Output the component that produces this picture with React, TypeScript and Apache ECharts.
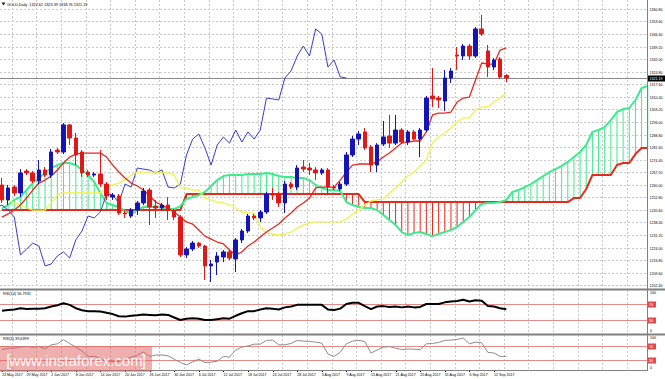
import React, { useEffect, useRef } from "react";
import * as echarts from "echarts";

// ---------- data ----------
const dates = [
  "23 May 2017","24 May 2017","25 May 2017","26 May 2017","29 May 2017","30 May 2017","31 May 2017",
  "1 Jun 2017","2 Jun 2017","5 Jun 2017","6 Jun 2017","7 Jun 2017","8 Jun 2017","9 Jun 2017",
  "12 Jun 2017","13 Jun 2017","14 Jun 2017","15 Jun 2017","16 Jun 2017","19 Jun 2017","20 Jun 2017",
  "21 Jun 2017","22 Jun 2017","23 Jun 2017","26 Jun 2017","27 Jun 2017","28 Jun 2017","29 Jun 2017",
  "30 Jun 2017","3 Jul 2017","4 Jul 2017","5 Jul 2017","6 Jul 2017","7 Jul 2017","10 Jul 2017",
  "11 Jul 2017","12 Jul 2017","13 Jul 2017","14 Jul 2017","17 Jul 2017","18 Jul 2017","19 Jul 2017",
  "20 Jul 2017","21 Jul 2017","24 Jul 2017","25 Jul 2017","26 Jul 2017","27 Jul 2017","28 Jul 2017",
  "31 Jul 2017","1 Aug 2017","2 Aug 2017","3 Aug 2017","4 Aug 2017","7 Aug 2017","8 Aug 2017",
  "9 Aug 2017","10 Aug 2017","11 Aug 2017","14 Aug 2017","15 Aug 2017","16 Aug 2017","17 Aug 2017",
  "18 Aug 2017","21 Aug 2017","22 Aug 2017","23 Aug 2017","24 Aug 2017","25 Aug 2017","28 Aug 2017",
  "29 Aug 2017","30 Aug 2017","31 Aug 2017","1 Sep 2017","4 Sep 2017","5 Sep 2017","6 Sep 2017",
  "7 Sep 2017","8 Sep 2017","11 Sep 2017","12 Sep 2017","13 Sep 2017","14 Sep 2017"
];

const opens = [1259.9,1251.3,1258.7,1255.3,1267.9,1266.8,1262.2,1268.5,1265.6,1279.9,1278.8,1294.3,1286.8,1278.8,1267.3,1265.6,1266.2,1260.4,1253.0,1253.6,1243.8,1242.1,1245.5,1249.6,1257.0,1247.8,1246.7,1248.4,1245.0,1241.5,1219.8,1223.2,1226.6,1224.9,1213.5,1215.7,1218.6,1221.5,1217.5,1228.4,1233.5,1242.1,1241.0,1244.4,1254.7,1254.7,1249.6,1260.4,1258.7,1270.2,1269.6,1268.5,1266.8,1268.5,1258.7,1257.6,1260.4,1277.1,1286.2,1290.3,1281.7,1271.3,1283.4,1288.0,1283.9,1291.4,1284.5,1290.3,1286.2,1291.4,1310.9,1309.7,1308.0,1321.2,1334.4,1333.8,1339.5,1333.8,1349.3,1336.7,1327.5,1332.1,1322.62];
const closes = [1251.3,1258.2,1255.3,1266.8,1266.8,1262.2,1268.5,1265.6,1278.8,1278.8,1294.3,1286.8,1277.1,1266.8,1265.6,1266.2,1260.4,1253.6,1254.1,1243.8,1243.3,1245.5,1249.6,1256.4,1247.3,1246.7,1248.4,1245.5,1241.5,1219.8,1223.2,1226.6,1224.9,1213.5,1214.6,1219.2,1221.5,1218.0,1228.4,1233.5,1242.1,1241.0,1244.4,1254.7,1254.1,1249.6,1260.4,1258.7,1269.6,1269.0,1268.5,1266.8,1268.5,1258.7,1258.2,1260.4,1277.1,1286.2,1289.1,1281.1,1271.3,1282.8,1287.4,1283.9,1291.4,1284.5,1290.3,1286.2,1291.4,1309.7,1309.2,1308.6,1321.2,1325.2,1333.8,1339.5,1333.8,1349.3,1346.4,1327.5,1331.5,1321.8,1321.19];
const lows = [1249.6,1248.4,1253.6,1253.0,1265.6,1261.0,1260.4,1264.5,1263.9,1277.6,1277.6,1282.8,1271.3,1264.5,1264.5,1264.5,1258.7,1251.3,1251.3,1242.7,1241.0,1241.0,1242.7,1248.4,1237.0,1241.0,1245.5,1239.8,1239.8,1218.6,1218.0,1222.1,1223.8,1205.4,1204.3,1208.3,1215.7,1216.9,1210.0,1226.6,1232.4,1239.8,1238.7,1243.3,1251.3,1247.3,1243.8,1257.6,1257.0,1267.3,1265.6,1262.7,1265.6,1254.1,1257.0,1256.4,1259.3,1275.9,1282.8,1279.9,1267.3,1267.3,1282.2,1281.1,1282.8,1283.4,1282.8,1285.7,1275.9,1290.3,1304.6,1304.0,1302.3,1318.3,1325.8,1331.5,1331.5,1332.7,1345.3,1321.8,1325.8,1320.6,1318.76];
const highs = [1263.9,1259.9,1259.9,1269.0,1269.0,1267.9,1274.2,1270.2,1280.5,1281.1,1295.4,1294.8,1289.7,1279.9,1268.5,1267.3,1279.9,1261.6,1255.3,1254.7,1245.5,1246.7,1250.7,1258.2,1258.2,1251.3,1249.6,1253.0,1246.1,1242.7,1224.3,1227.8,1227.2,1225.5,1216.9,1221.5,1222.6,1222.6,1229.5,1234.7,1243.3,1243.3,1245.5,1255.9,1258.2,1255.9,1262.2,1261.6,1271.3,1274.2,1272.5,1270.2,1269.6,1269.6,1259.9,1261.6,1278.8,1288.0,1290.8,1292.5,1282.8,1283.9,1296.6,1300.0,1300.0,1292.5,1291.4,1291.4,1292.5,1310.9,1326.9,1310.9,1325.8,1326.9,1339.0,1340.7,1340.7,1350.4,1357.3,1340.1,1332.7,1333.2,1323.39];

const tenkan = [1241.5,1243.3,1245.5,1248.4,1252.4,1257.0,1261.0,1262.7,1265.0,1268.5,1272.5,1275.9,1277.6,1278.2,1278.2,1278.2,1278.2,1275.9,1271.3,1267.3,1263.9,1261.0,1259.3,1257.0,1253.6,1250.1,1248.4,1246.7,1244.4,1241.5,1238.7,1237.5,1234.1,1230.6,1228.9,1227.2,1226.1,1222.6,1219.8,1221.5,1224.9,1227.2,1230.1,1232.9,1235.2,1237.5,1241.0,1243.8,1247.3,1249.6,1252.4,1258.2,1258.7,1258.7,1258.7,1262.7,1267.3,1271.3,1271.9,1271.9,1271.9,1273.1,1275.9,1278.2,1281.1,1283.9,1284.5,1285.1,1285.1,1290.3,1300.0,1301.1,1301.1,1301.7,1307.4,1309.7,1310.3,1320.1,1329.8,1329.2,1329.2,1337.2,1338.4];
const kijun = [1253.0,1251.3,1249.6,1248.4,1246.7,1245.5,1245.5,1245.5,1249.6,1254.1,1255.3,1255.3,1255.3,1255.3,1255.3,1255.3,1255.3,1258.2,1259.9,1261.0,1262.7,1265.6,1267.3,1267.3,1267.3,1267.3,1266.8,1266.8,1265.6,1258.2,1258.2,1257.0,1257.0,1252.4,1251.3,1250.1,1249.6,1248.4,1246.7,1244.4,1243.8,1243.8,1235.8,1232.4,1231.8,1231.2,1231.8,1232.9,1235.2,1236.9,1238.1,1238.7,1238.7,1238.7,1238.7,1238.7,1240.4,1243.3,1245.5,1248.4,1250.7,1251.3,1251.9,1255.3,1258.2,1261.6,1265.0,1267.3,1270.8,1274.2,1283.9,1287.4,1289.7,1292.5,1296.0,1298.3,1298.3,1302.9,1304.6,1304.6,1307.4,1309.7,1312.6];
// Senkou spans, already shifted 26 bars forward (index 0 = 23 May 2017)
const spanA = [1246.7,1248.4,1251.3,1253.0,1257.0,1261.0,1263.9,1266.8,1269.6,1271.3,1272.5,1272.5,1271.3,1268.5,1265.6,1261.6,1255.3,1249.6,1248.4,1247.3,1245.0,1243.3,1245.5,1247.3,1247.3,1247.3,1247.3,1246.1,1246.1,1247.8,1251.9,1253.0,1254.1,1255.9,1259.3,1262.7,1265.0,1265.6,1265.6,1265.6,1266.2,1266.2,1266.2,1266.8,1266.2,1265.0,1264.5,1264.5,1263.9,1263.9,1262.7,1259.9,1258.2,1257.0,1257.0,1256.4,1250.1,1248.4,1247.3,1246.7,1246.7,1245.5,1242.7,1239.8,1237.0,1232.9,1231.2,1232.4,1232.9,1231.8,1230.6,1231.8,1232.9,1234.1,1235.8,1238.7,1241.5,1245.5,1249.0,1249.6,1249.6,1250.1,1251.3,1255.9,1257.0,1258.7,1260.4,1262.7,1265.0,1267.3,1269.0,1270.8,1273.1,1275.9,1278.8,1282.8,1290.3,1291.4,1293.1,1297.1,1301.7,1303.4,1304.0,1308.6,1315.5,1316.6];
const spanB = [1245.5,1245.5,1245.5,1245.5,1245.5,1245.5,1245.5,1245.5,1245.5,1245.5,1245.5,1245.5,1245.5,1245.5,1245.5,1245.5,1245.5,1245.5,1245.5,1245.5,1245.5,1245.5,1245.5,1245.5,1245.5,1245.5,1245.5,1245.5,1245.5,1245.5,1254.7,1254.7,1254.7,1254.7,1254.7,1254.7,1254.7,1254.7,1254.7,1254.7,1254.7,1254.7,1254.7,1254.7,1254.7,1254.7,1254.7,1254.7,1254.7,1254.7,1254.7,1254.7,1254.7,1254.7,1254.7,1254.7,1254.7,1254.7,1254.7,1250.1,1250.1,1250.1,1250.1,1250.1,1250.1,1250.1,1250.1,1250.1,1250.1,1250.1,1250.1,1250.1,1250.1,1250.1,1250.1,1250.1,1250.1,1250.1,1250.1,1250.1,1250.1,1250.1,1250.1,1250.1,1250.1,1250.1,1250.1,1250.1,1250.1,1250.1,1250.1,1250.1,1250.1,1252.4,1252.4,1257.6,1265.6,1265.6,1265.6,1265.6,1271.3,1272.5,1272.5,1277.6,1281.1,1281.1];
const chikouShift = 26;

const rsi14 = [53,55,56,59,57,58,58,59,63,66,71,67,59,54,52,52,51,48,45,40,39,41,42,44,43,42,44,43,37,31,34,35,34,31,31,33,35,34,41,47,52,52,56,59,58,56,61,63,67,67,67,67,67,56,55,58,69,72,72,64,57,63,64,62,63,61,63,61,62,69,69,69,73,75,76,79,75,78,77,64,63,59,56.79];
const rsi3 = [60,64,64,68,69,67,69,62,74,77,89,78,67,56,40,40,34,26,25,25,32,38,43,53,40,44,44,42,32,22,15,24,32,22,23,26,40,38,59,67,71,76,76,87,88,74,74,78,87,85,84,82,79,47,40,52,77,85,87,84,50,59,67,69,64,60,62,61,60,77,78,81,87,88,90,94,77,82,80,52,50,40,39.64];

const priceTicks = [1202.4,1209.6,1216.8,1224.0,1231.2,1238.4,1245.6,1252.8,1260.0,1267.2,1274.4,1281.6,1288.8,1296.0,1303.2,1310.4,1317.6,1324.8,1332.0,1339.2,1346.4,1353.6,1360.8];
const rsiLevels = [70, 30];
const rsiBounds = [100, 0];
const lastOHLC = [1322.62, 1323.39, 1318.76, 1321.19];
const symbolName = "GOLD,Daily";
const rsi14Label = "RSI(14) 56.7931";
const rsi3Label = "RSI(3) 39.6399";
const watermark = "www.instaforex.com";

// ---------- styling / layout ----------
const BULL = "#1414B8";
const BEAR = "#E01818";
const TENKAN = "#E62A1E";
const KIJUN = "#F2F24A";
const CHIKOU = "#3A3AD0";
const SPAN_A = "#3EEB8C";
const SPAN_B = "#E62A1E";
const FONT = "Liberation Sans";

const PLOT_W = 647;
const MAIN_TOP = 0, MAIN_H = 288;
const R1_TOP = 291, R1_H = 42;
const R2_TOP = 336, R2_H = 34;
const X_MIN = -0.325, X_MAX = 104.88;
const Y_MIN = 1200.85, Y_MAX = 1365.9;

export default function App() {
  const ref = useRef<HTMLDivElement>(null);
  useEffect(() => {
    const el = ref.current!;
    const chart = echarts.init(el, null, { renderer: "svg" });
    const line = (name: string, data: any[], color: string, width: number, g = 0, z = 3) => ({
      name, type: "line", xAxisIndex: g, yAxisIndex: g, data, symbol: "none",
      lineStyle: { color, width }, silent: true, z,
    });
    const option: any = {
      animation: false,
      backgroundColor: "#ffffff",
      grid: [
        { left: 0, top: MAIN_TOP, width: PLOT_W, height: MAIN_H },
        { left: 0, top: R1_TOP, width: PLOT_W, height: R1_H },
        { left: 0, top: R2_TOP, width: PLOT_W, height: R2_H },
      ],
      xAxis: [0, 1, 2].map((g) => ({ type: "value", gridIndex: g, min: X_MIN, max: X_MAX, show: false })),
      yAxis: [
        { type: "value", gridIndex: 0, min: Y_MIN, max: Y_MAX, show: false },
        { type: "value", gridIndex: 1, min: 0, max: 100, show: false },
        { type: "value", gridIndex: 2, min: 0, max: 100, show: false },
      ],
      series: [
        {
          type: "custom", xAxisIndex: 0, yAxisIndex: 0, silent: true, z: 1,
          data: spanA.map((a, i) => [i, a, spanB[i]]),
          encode: { x: 0, y: [1, 2] },
          renderItem: (params: any, api: any) => {
            const i = api.value(0), a = api.value(1), b = api.value(2);
            const p1 = api.coord([i, a]);
            const p2 = api.coord([i, b]);
            return {
              type: "line",
              shape: { x1: p1[0], y1: p1[1], x2: p2[0], y2: p2[1] },
              style: { stroke: a >= b ? SPAN_A : SPAN_B, lineWidth: 1 },
            };
          },
        },
        line("spanB", spanB.map((v, i) => [i, v]), SPAN_B, 2),
        line("spanA", spanA.map((v, i) => [i, v]), SPAN_A, 2),
        line("chikou", closes.slice(chikouShift - 1).map((v, i) => [i - 1, v]), CHIKOU, 1),
        line("kijun", kijun.map((v, i) => [i, v]), KIJUN, 1.3),
        line("tenkan", tenkan.map((v, i) => [i, v]), TENKAN, 1.3),
        {
          type: "candlestick", xAxisIndex: 0, yAxisIndex: 0, silent: true, z: 5,
          data: opens.map((o, i) => [i, o, closes[i], lows[i], highs[i]]),
          encode: { x: 0, y: [1, 2, 3, 4] },
          barWidth: 4,
          itemStyle: { color: BULL, color0: BEAR, borderColor: BULL, borderColor0: BEAR, borderWidth: 1 },
        },
        line("rsi14", rsi14.map((v, i) => [i, v]), "#000000", 2, 1),
        line("rsi3", rsi3.map((v, i) => [i, v]), "#8c8c8c", 1, 2),
      ],
    };
    chart.setOption(option);

    const px = (g: number, x: number, y: number) =>
      chart.convertToPixel({ gridIndex: g } as any, [x, y]) as unknown as number[];
    const els: any[] = [];
    const txt = (x: number, y: number, text: string, o: any = {}) =>
      els.push({
        type: "text", x, y, z: 20, silent: true,
        style: { text, fill: o.fill || "#000", fontSize: o.size || 4, fontFamily: FONT,
          align: o.align || "left", verticalAlign: o.va || "middle", fontWeight: o.weight || "normal" },
      });
    const ln = (x1: number, y1: number, x2: number, y2: number, stroke: string, w = 1, dash?: number[], z = 0) =>
      els.push({ type: "line", z, silent: true, shape: { x1, y1, x2, y2 }, style: { stroke, lineWidth: w, lineDash: dash } });

    // vertical grid lines
    for (let k = 0; k < 27; k++) {
      const x = Math.round(px(0, 1.6 + 4 * k, Y_MIN)[0]) + 0.5;
      if (x > PLOT_W) break;
      ln(x, MAIN_TOP, x, MAIN_TOP + MAIN_H, "#c9c9c9", 1, [2, 2]);
      ln(x, R1_TOP - 1, x, R1_TOP + R1_H, "#c9c9c9", 1, [2, 2]);
      ln(x, R2_TOP - 1, x, R2_TOP + R2_H, "#c9c9c9", 1, [2, 2]);
    }
    // price grid + labels
    priceTicks.forEach((v) => {
      const y = Math.round(px(0, 0, v)[1]) + 0.5;
      ln(0, y, PLOT_W, y, "#c9c9c9", 1, [2, 2]);
      txt(649.5, y, v.toFixed(2), { size: 3.6 });
    });
    // current price line + box
    const lastClose = lastOHLC[3];
    const yc = Math.round(px(0, 0, lastClose)[1]) + 0.5;
    ln(0, yc, PLOT_W, yc, "#8a8a8a", 1, undefined, 1);
    els.push({ type: "rect", z: 19, silent: true, shape: { x: 648, y: yc - 3, width: 17, height: 6 }, style: { fill: "#000" } });
    txt(649.5, yc, lastClose.toFixed(2), { fill: "#fff", size: 3.6 });

    // RSI panels: levels and bounds
    [1, 2].forEach((g) => {
      rsiLevels.forEach((lv) => {
        const y = Math.round(px(g, 0, lv)[1]) + 0.5;
        ln(0, y, PLOT_W, y, "#e58a8a", 1, undefined, 1);
        els.push({ type: "rect", z: 19, silent: true, shape: { x: 648, y: y - 3, width: 8, height: 6 }, style: { fill: "#e04a4a" } });
        txt(649, y, String(lv), { fill: "#fff", size: 3.6 });
      });
      rsiBounds.forEach((b) => {
        const y = px(g, 0, b)[1];
        txt(650, b === 100 ? y + 2 : y - 2, String(b), { size: 3.6 });
      });
    });

    // date labels
    for (let i = 0; i < dates.length; i += 4) {
      const x = px(2, i, 0)[0];
      ln(Math.round(x) + 0.5, 370, Math.round(x) + 0.5, 372, "#000", 1, undefined, 5);
      txt(x, 375, dates[i], { size: 3.6 });
    }

    // frame lines
    ln(0, 289.5, 665, 289.5, "#808080", 2, undefined, 15);
    ln(0, 334.5, 665, 334.5, "#808080", 2, undefined, 15);
    ln(0, 370.5, PLOT_W + 1, 370.5, "#808080", 1, undefined, 15);
    ln(PLOT_W + 0.5, 0, PLOT_W + 0.5, 371, "#808080", 1, undefined, 15);

    // titles
    els.push({ type: "polygon", z: 20, silent: true, shape: { points: [[1.5, 2.5], [5.5, 2.5], [3.5, 5.5]] }, style: { fill: "#222" } });
    txt(7, 4.5, `${symbolName}  ${lastOHLC.map((v) => v.toFixed(2)).join(" ")}`, { size: 3.8 });
    txt(3, 294, rsi14Label, { size: 3.8 });
    txt(3, 339, rsi3Label, { size: 3.8 });

    // watermark
    els.push({ type: "rect", z: 18, silent: true, shape: { x: 0, y: 346, width: 152, height: 26 }, style: { fill: "rgba(226,96,96,0.5)" } });
    txt(76, 360, watermark, { fill: "rgba(255,255,255,0.92)", size: 15, align: "center" });
    txt(6, 360, "[", { fill: "rgba(255,255,255,0.92)", size: 17 });
    txt(146, 360, "]", { fill: "rgba(255,255,255,0.92)", size: 17, align: "right" });

    chart.setOption({ graphic: { elements: els } });
    return () => chart.dispose();
  }, []);
  return (
    <div
      ref={ref}
      style={{ position: "fixed", left: 0, top: 0, width: 665, height: 379, background: "#fff" }}
    />
  );
}
